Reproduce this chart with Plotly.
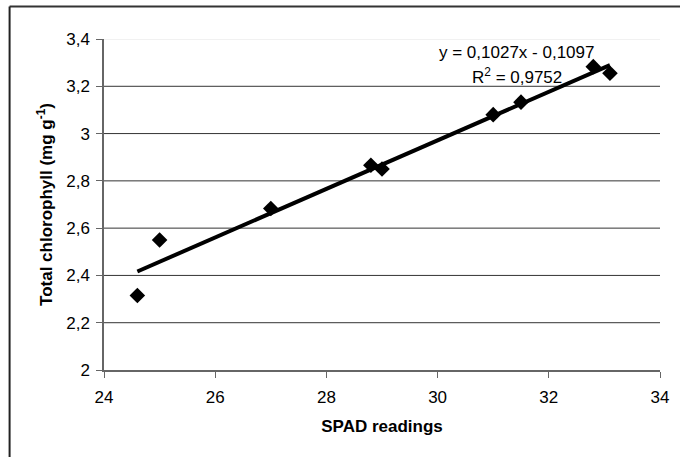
import plotly.graph_objects as go

spad = [24.6, 25.0, 27.0, 28.8, 29.0, 31.0, 31.5, 32.8, 33.1]
chl = [2.315, 2.55, 2.683, 2.866, 2.85, 3.08, 3.133, 3.283, 3.255]
slope = 0.1027
intercept = -0.1097
r2 = 0.9752
y_tickvals = [2.0, 2.2, 2.4, 2.6, 2.8, 3.0, 3.2, 3.4]
y_ticktext = ["2", "2,2", "2,4", "2,6", "2,8", "3", "3,2", "3,4"]
x_tickvals = [24, 26, 28, 30, 32, 34]
x_ticktext = ["24", "26", "28", "30", "32", "34"]

x_fit = [min(spad), max(spad)]
y_fit = [slope * v + intercept for v in x_fit]

FONT = "Arial, Liberation Sans, sans-serif"
FS = 17

fig = go.Figure()
fig.add_trace(go.Scatter(x=x_fit, y=y_fit, mode="lines",
                         line=dict(color="black", width=4), hoverinfo="skip"))
fig.add_trace(go.Scatter(x=spad, y=chl, mode="markers",
                         marker=dict(symbol="diamond", size=12, color="black")))

# horizontal gridlines (3.4 light)
for v in y_tickvals[1:]:
    fig.add_shape(type="line", xref="paper", yref="y", x0=0, x1=1, y0=v, y1=v,
                  line=dict(color="#e4e4e4" if v == 3.4 else "#333333", width=1),
                  layer="below")

# outer border: top and left edges (others fall outside the window)
fig.add_shape(type="line", xref="paper", yref="paper",
              x0=-0.1698, x1=1.1, y0=1.098, y1=1.098,
              line=dict(color="#333333", width=2))
fig.add_shape(type="line", xref="paper", yref="paper",
              x0=-0.1698, x1=-0.1698, y0=1.098, y1=-0.4,
              line=dict(color="#222222", width=2))

eq_text = f"y = {str(slope).replace('.', ',')}x - {str(-intercept).replace('.', ',')}"
r2_text = f"R<sup>2</sup> = {str(r2).replace('.', ',')}"
fig.add_annotation(x=(516.5 - 103.5) / 556.5, y=(370 - 52) / 331, xref="paper", yref="paper",
                   xanchor="center", yanchor="middle", showarrow=False, text=eq_text,
                   font=dict(size=FS, color="black", family=FONT))
fig.add_annotation(x=(517 - 103.5) / 556.5, y=(370 - 76) / 331, xref="paper", yref="paper",
                   xanchor="center", yanchor="middle", showarrow=False, text=r2_text,
                   font=dict(size=FS, color="black", family=FONT))

fig.update_layout(
    width=680, height=457,
    margin=dict(l=103.5, r=20, t=39, b=87),
    paper_bgcolor="white", plot_bgcolor="white",
    showlegend=False,
    font=dict(family=FONT, size=FS, color="black"),
    xaxis=dict(range=[24, 34], tickvals=x_tickvals, ticktext=x_ticktext,
               showgrid=False, zeroline=False, showline=True, linecolor="#666666",
               linewidth=1.5, ticks="outside", ticklen=6, tickcolor="#666666",
               tickfont=dict(size=FS), ticklabelstandoff=5,
               title=dict(text="<b>SPAD readings</b>", standoff=14,
                          font=dict(size=FS))),
    yaxis=dict(range=[2, 3.4], tickvals=y_tickvals, ticktext=y_ticktext,
               showgrid=False, zeroline=False, showline=True, linecolor="#666666",
               linewidth=1.5, ticks="outside", ticklen=6, tickcolor="#666666",
               tickfont=dict(size=FS), ticklabelstandoff=3,
               title=dict(text="<b>Total chlorophyll (mg g<sup>-1</sup>)</b>", standoff=9,
                          font=dict(size=FS))),
)

fig.write_html("out.html")
